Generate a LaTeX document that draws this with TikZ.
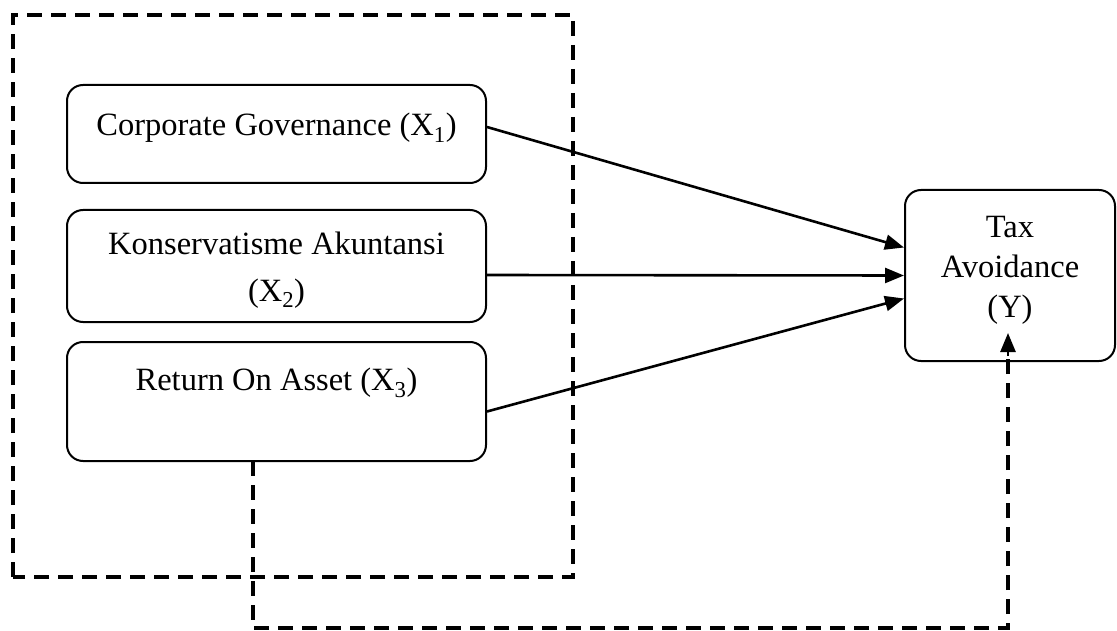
\documentclass[tikz,border=0pt]{standalone}
\usepackage{fontspec}
\setmainfont{Liberation Serif}
\usetikzlibrary{arrows.meta}
\begin{document}
\begin{tikzpicture}[x=1pt,y=-1pt,
  varbox/.style={draw, line width=2pt, rounded corners=16pt, inner sep=0pt},
  lbl/.style={font=\fontsize{32.5}{40}\selectfont, inner sep=0pt, align=center},
  arr/.style={line width=2.6pt, -{Triangle[length=19pt,width=15pt]}},
  dsh/.style={line width=4pt, dash pattern=on 15pt off 9pt}]
\useasboundingbox (0,0) rectangle (1117,631);
% dashed group box
\draw[dsh] (13,577) -- (13,15) -- (573,15) -- (573,577) -- cycle;
% boxes
\node[varbox, minimum width=419pt, minimum height=98pt] (x1) at (276.5,134) {};
\node[varbox, minimum width=419pt, minimum height=112pt] (x2) at (276.5,266) {};
\node[varbox, minimum width=419pt, minimum height=119pt] (x3) at (276.5,401.5) {};
\node[varbox, minimum width=210pt, minimum height=171pt] (y) at (1010,275.5) {};
% labels
\node[lbl] (t1) at (276.5,128) {Corporate Governance (X\textsubscript{1})};
\node[lbl, font=\fontsize{32.5}{47}\selectfont] (t2) at (276.5,270) {Konservatisme Akuntansi\\(X\textsubscript{2})};
\node[lbl] (t3) at (276.5,383) {Return On Asset (X\textsubscript{3})};
\node[lbl] (ty) at (1010,270) {Tax\\Avoidance\\(Y)};
% arrows
\draw[arr] ([yshift=7pt]x1.east) -- ([yshift=28pt]y.west);
\draw[arr] ([yshift=-9pt]x2.east) -- (y.west);
\draw[arr] ([yshift=-10pt]x3.east) -- ([yshift=-23pt]y.west);
% dashed moderation path
\coordinate (d1) at (253,461);
\coordinate (d2) at (253,628);
\coordinate (d3) at (1008,628);
\coordinate (d4) at (1008,333);
\draw[dsh] (d1) -- (d2) -- (d3) -- (1008,352);
\draw[arr] (1008,356) -- (d4);
\end{tikzpicture}
\end{document}
